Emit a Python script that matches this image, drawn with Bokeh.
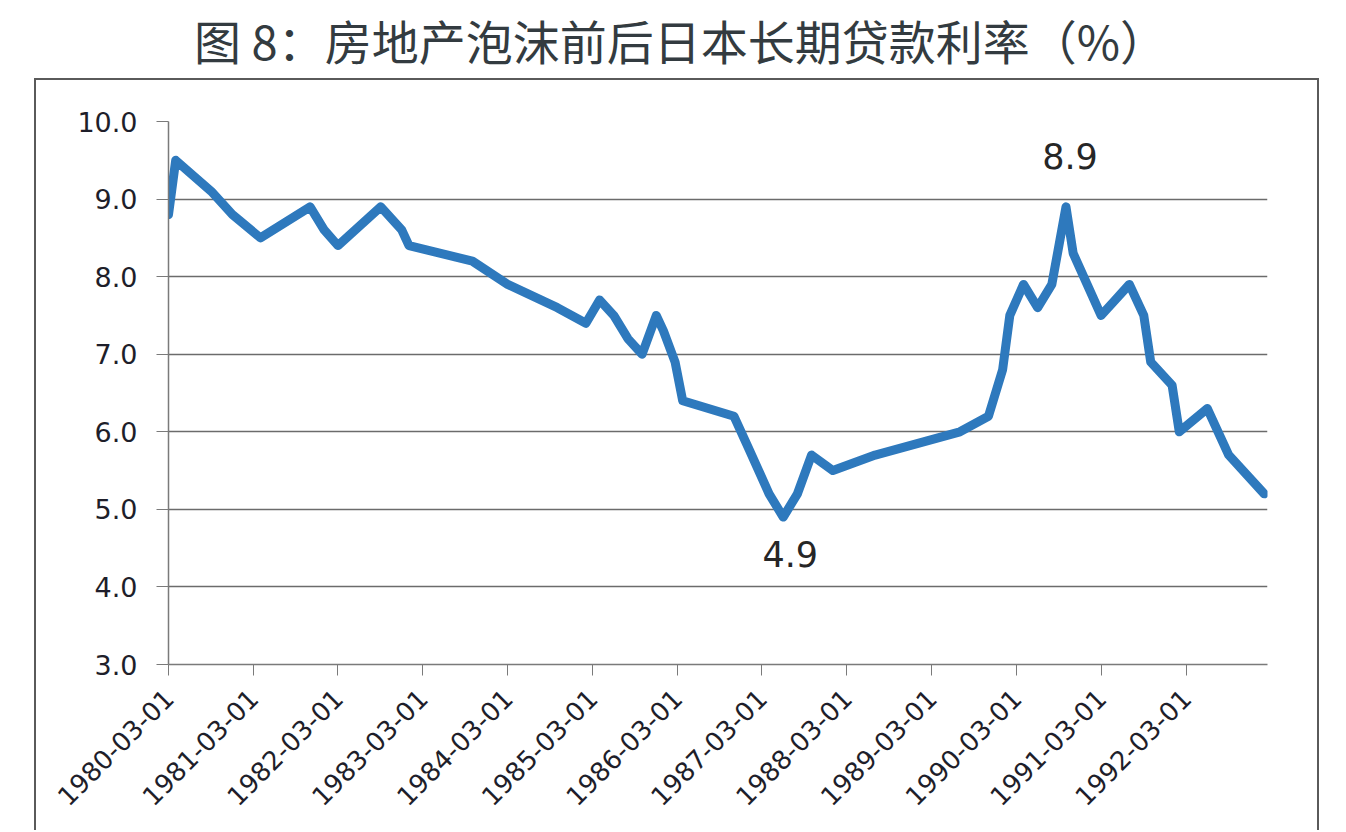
import math
from datetime import datetime
from bokeh.plotting import figure
from bokeh.layouts import column
from bokeh.models import (Range1d, FixedTicker, Label, Div,
                          DatetimeTickFormatter, NumeralTickFormatter, ColumnDataSource)
from bokeh.embed import file_html
from bokeh.resources import INLINE

# ---- data ----
dates = ["1980-03-01", "1980-04-01", "1980-09-01", "1980-12-01", "1981-04-01",
         "1981-11-01", "1982-01-01", "1982-03-01", "1982-09-01", "1982-12-01",
         "1983-01-01", "1983-10-01", "1984-03-01", "1984-10-01", "1985-02-01",
         "1985-04-01", "1985-06-01", "1985-08-01", "1985-10-01", "1985-12-01",
         "1986-01-01", "1986-02-20", "1986-03-25", "1986-11-01", "1987-01-01",
         "1987-04-01", "1987-06-01", "1987-08-01", "1987-10-01", "1988-01-01",
         "1988-07-01", "1989-07-01", "1989-11-01", "1990-01-01", "1990-02-01",
         "1990-04-01", "1990-06-01", "1990-08-01", "1990-10-01", "1990-11-01",
         "1990-12-01", "1991-03-01", "1991-05-01", "1991-07-01", "1991-09-01",
         "1991-10-01", "1992-01-01", "1992-02-01", "1992-06-01", "1992-09-01",
         "1993-02-01"]
rates = [8.8, 9.5, 9.1, 8.8, 8.5,
         8.9, 8.6, 8.4, 8.9, 8.6,
         8.4, 8.2, 7.9, 7.6, 7.4,
         7.7, 7.5, 7.2, 7.0, 7.5,
         7.3, 6.9, 6.4, 6.2, 5.8,
         5.2, 4.9, 5.2, 5.7, 5.5,
         5.7, 6.0, 6.2, 6.8, 7.5,
         7.9, 7.6, 7.9, 8.9, 8.3,
         8.1, 7.5, 7.7, 7.9, 7.5,
         6.9, 6.6, 6.0, 6.3, 5.7,
         5.2]
tick_labels = ["1980-03-01", "1981-03-01", "1982-03-01", "1983-03-01", "1984-03-01",
               "1985-03-01", "1986-03-01", "1987-03-01", "1988-03-01", "1989-03-01",
               "1990-03-01", "1991-03-01", "1992-03-01"]
y_ticks = [3, 4, 5, 6, 7, 8, 9, 10]
label_dates = ["1987-06-01", "1990-10-01"]
label_values = [4.9, 8.9]
title_text = "图 8：房地产泡沫前后日本长期贷款利率（%）"

def to_dt(s):
    return datetime.strptime(s, "%Y-%m-%d")

def to_ms(s):
    return (to_dt(s) - datetime(1970, 1, 1)).total_seconds() * 1000.0

src = ColumnDataSource(dict(x=[to_dt(d) for d in dates], y=rates))

title_div = Div(text=title_text, width=1346, height=78, margin=(0, 0, 0, 0),
                styles={"font-family": "'Noto Sans CJK SC'", "font-size": "47px",
                        "color": "#333b40", "text-align": "center",
                        "line-height": "80px", "width": "1346px",
                        "padding-left": "15px", "box-sizing": "border-box",
                        "white-space": "nowrap"})

p = figure(width=1285, height=752, x_axis_type="datetime",
           x_range=Range1d(to_dt("1980-03-01"), to_dt("1993-02-15")),
           y_range=Range1d(3, 10),
           output_backend="svg", toolbar_location=None,
           min_border_left=132, min_border_right=54,
           min_border_top=41, min_border_bottom=168,
           margin=(0, 0, 0, 34),
           styles={"border-top": "2px solid #5a5a5a",
                   "border-left": "2px solid #5a5a5a",
                   "border-right": "2px solid #5a5a5a"})

p.background_fill_color = "white"
p.border_fill_color = "white"
p.outline_line_color = None

# grid
p.xgrid.grid_line_color = None
p.ygrid.ticker = FixedTicker(ticks=y_ticks)
p.ygrid.grid_line_color = "#6b6b6b"
p.ygrid.grid_line_width = 1.5

# y axis
p.yaxis.ticker = FixedTicker(ticks=y_ticks)
p.yaxis.formatter = NumeralTickFormatter(format="0.0")
p.yaxis.major_tick_out = 12
p.yaxis.major_tick_in = 0
p.yaxis.minor_tick_line_color = None
p.yaxis.major_tick_line_color = "#7a7a7a"
p.yaxis.axis_line_color = "#7a7a7a"
p.yaxis.axis_line_width = 1.5
p.yaxis.major_label_standoff = 19
p.yaxis.major_label_text_font = "DejaVu Sans"
p.yaxis.major_label_text_font_size = "27px"
p.yaxis.major_label_text_color = "#1e1e2a"

# x axis
p.xaxis.ticker = FixedTicker(ticks=[to_ms(t) for t in tick_labels])
fmt = "%Y-%m-%d"
p.xaxis.formatter = DatetimeTickFormatter(years=fmt, months=fmt, days=fmt, hours=fmt,
                                          minutes=fmt, seconds=fmt, milliseconds=fmt,
                                          microseconds=fmt, hourmin=fmt, minsec=fmt)
p.xaxis.major_label_orientation = math.pi / 4
p.xaxis.major_tick_out = 11
p.xaxis.major_tick_in = 0
p.xaxis.minor_tick_line_color = None
p.xaxis.major_tick_line_color = "#7a7a7a"
p.xaxis.axis_line_color = "#7a7a7a"
p.xaxis.axis_line_width = 1.5
p.xaxis.major_label_standoff = 18
p.xaxis.major_label_text_font = "DejaVu Sans"
p.xaxis.major_label_text_font_size = "26px"
p.xaxis.major_label_text_color = "#1e1e2a"

# line
p.line("x", "y", source=src, line_color="#2e79bd", line_width=9,
       line_join="round", line_cap="round")

# data labels
offsets = [-24, 38]
x_offsets = [7, 4]
baselines = ["top", "bottom"]
for d, v, off, xo, bl in zip(label_dates, label_values, offsets, x_offsets, baselines):
    p.add_layout(Label(x=to_dt(d), y=v, text=f"{v:.1f}", text_align="center",
                       text_baseline=bl, y_offset=off, x_offset=xo,
                       text_font="DejaVu Sans",
                       text_font_size="35px", text_color="#262626"))

layout = column(title_div, p, spacing=0)
open("out.html", "w").write(file_html(layout, INLINE))
